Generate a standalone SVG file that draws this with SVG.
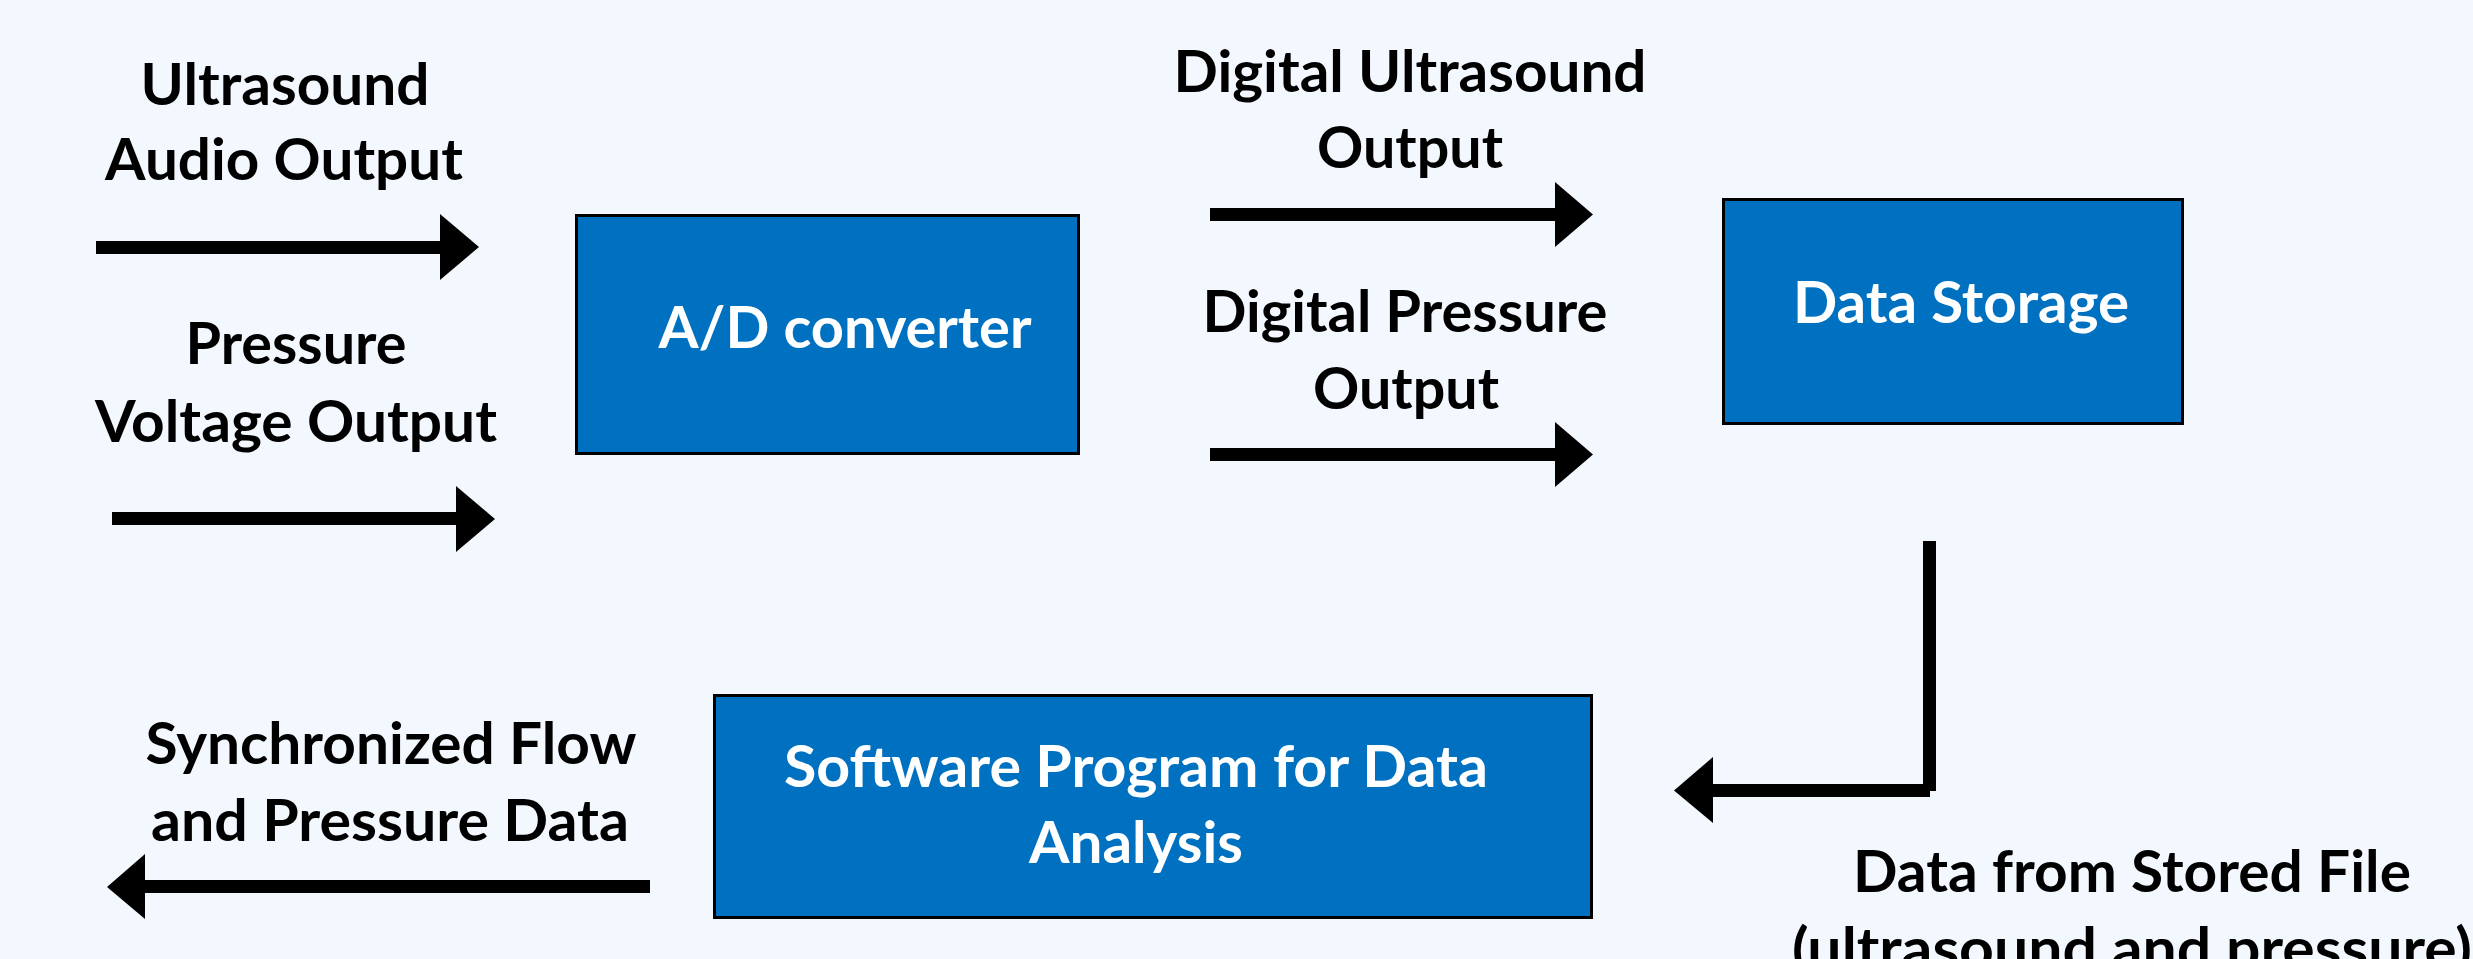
<svg xmlns="http://www.w3.org/2000/svg" width="2473" height="959" viewBox="0 0 2473 959">
<style>
.t{font-family:Lato,"Liberation Sans",sans-serif;font-weight:bold;font-size:58px;text-anchor:middle}
.lbl{fill:#000}
.in{fill:#fff}
.box{fill:#0070C0;stroke:#000;stroke-width:3}
.arr{fill:#000}
</style>
<rect x="0" y="0" width="2473" height="959" fill="#F3F8FE"/>
<g id="connectors">
<path class="arr" d="M96,241 H440 V214 L479,247 L440,280 V254 H96 Z"/>
<path class="arr" d="M112,512 H456 V486 L495,519 L456,552 V525 H112 Z"/>
<path class="arr" d="M1210,208 H1555 V182 L1593,214.5 L1555,247 V221 H1210 Z"/>
<path class="arr" d="M1210,448 H1555 V422 L1593,454.5 L1555,487 V461 H1210 Z"/>
<path class="arr" d="M650,880 H145 V854 L107,887 L145,919 V893 H650 Z"/>
<path class="arr" d="M1923,541 H1936 V791 H1930 V797 H1713 V823 L1674,790.5 L1713,757 V784 H1923 Z"/>
</g>
<g id="labels">
<text class="t lbl" x="285" y="105" textLength="289" lengthAdjust="spacingAndGlyphs">Ultrasound</text>
<text class="t lbl" x="284" y="180" textLength="358" lengthAdjust="spacingAndGlyphs">Audio Output</text>
<text class="t lbl" x="296" y="364" textLength="221" lengthAdjust="spacingAndGlyphs">Pressure</text>
<text class="t lbl" x="296" y="442" textLength="402" lengthAdjust="spacingAndGlyphs">Voltage Output</text>
<text class="t lbl" x="1410" y="92" textLength="473" lengthAdjust="spacingAndGlyphs">Digital Ultrasound</text>
<text class="t lbl" x="1410" y="168" textLength="186" lengthAdjust="spacingAndGlyphs">Output</text>
<text class="t lbl" x="1405" y="332" textLength="405" lengthAdjust="spacingAndGlyphs">Digital Pressure</text>
<text class="t lbl" x="1406" y="409" textLength="186" lengthAdjust="spacingAndGlyphs">Output</text>
<text class="t lbl" x="391" y="764" textLength="491" lengthAdjust="spacingAndGlyphs">Synchronized Flow</text>
<text class="t lbl" x="390" y="841" textLength="478" lengthAdjust="spacingAndGlyphs">and Pressure Data</text>
<text class="t lbl" x="2132" y="892" textLength="558" lengthAdjust="spacingAndGlyphs">Data from Stored File</text>
<text class="t lbl" x="2132" y="969" textLength="680" lengthAdjust="spacingAndGlyphs">(ultrasound and pressure)</text>
</g>
<g id="ad-converter">
<rect class="box" x="576.5" y="215.5" width="502" height="238"/>
<text class="t in" x="845" y="348" textLength="373" lengthAdjust="spacingAndGlyphs">A/D converter</text>
</g>
<g id="data-storage">
<rect class="box" x="1723.5" y="199.5" width="459" height="224"/>
<text class="t in" x="1961" y="323" textLength="336" lengthAdjust="spacingAndGlyphs">Data Storage</text>
</g>
<g id="software-program">
<rect class="box" x="714.5" y="695.5" width="877" height="222"/>
<text class="t in" x="1136" y="787" textLength="704" lengthAdjust="spacingAndGlyphs">Software Program for Data</text>
<text class="t in" x="1136" y="863" textLength="214" lengthAdjust="spacingAndGlyphs">Analysis</text>
</g>
</svg>
